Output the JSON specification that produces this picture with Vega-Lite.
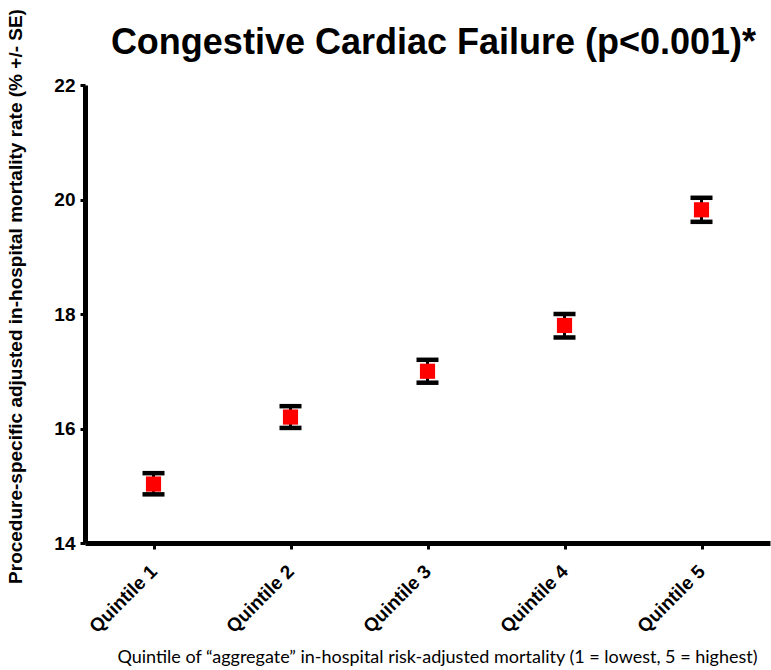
{
  "$schema": "https://vega.github.io/schema/vega-lite/v6.json",
  "width": 685,
  "height": 458,
  "autosize": "none",
  "padding": {"left": 85, "top": 85, "right": 1, "bottom": 127},
  "background": "white",
  "config": {"view": {"stroke": null}},
  "title": {
    "text": "Congestive Cardiac Failure (p<0.001)*",
    "font": "Liberation Sans",
    "fontSize": 36,
    "fontWeight": "bold",
    "color": "black",
    "anchor": "middle",
    "dx": 6,
    "dy": 53,
    "offset": 0
  },
  "data": {
    "values": [
      {"quintile": "Quintile 1", "rate": 15.03, "lo": 14.85, "hi": 15.22},
      {"quintile": "Quintile 2", "rate": 16.2, "lo": 16.01, "hi": 16.39},
      {"quintile": "Quintile 3", "rate": 17.0, "lo": 16.8, "hi": 17.2},
      {"quintile": "Quintile 4", "rate": 17.8, "lo": 17.59, "hi": 18.0},
      {"quintile": "Quintile 5", "rate": 19.82, "lo": 19.61, "hi": 20.03}
    ]
  },
  "encoding": {
    "x": {
      "field": "quintile",
      "type": "nominal",
      "scale": {"type": "point", "padding": 0.5},
      "axis": {
        "title": "Quintile of “aggregate” in-hospital risk-adjusted mortality (1 = lowest, 5 = highest)",
        "titleFont": "Lato",
        "titleFontSize": 18,
        "titleFontWeight": "normal",
        "titleColor": "black",
        "titleX": 352,
        "titleY": 114,
        "titleBaseline": "middle",
        "labelAngle": -45,
        "labelAlign": "right",
        "labelBaseline": "middle",
        "labelFont": "Liberation Sans",
        "labelFontSize": 19,
        "labelFontWeight": "bold",
        "labelColor": "black",
        "labelPadding": 19,
        "domainColor": "black",
        "domainWidth": 5,
        "tickColor": "black",
        "tickWidth": 3,
        "tickSize": 6,
        "grid": false
      }
    }
  },
  "layer": [
    {
      "mark": {"type": "rule", "color": "black", "strokeWidth": 3},
      "encoding": {
        "y": {"field": "lo", "type": "quantitative"},
        "y2": {"field": "hi"}
      }
    },
    {
      "mark": {"type": "tick", "color": "black", "opacity": 1, "orient": "horizontal", "size": 22, "thickness": 4.5},
      "encoding": {"y": {"field": "lo", "type": "quantitative"}}
    },
    {
      "mark": {"type": "tick", "color": "black", "opacity": 1, "orient": "horizontal", "size": 22, "thickness": 4.5},
      "encoding": {"y": {"field": "hi", "type": "quantitative"}}
    },
    {
      "mark": {"type": "point", "shape": "square", "filled": true, "color": "#ff0000", "opacity": 1, "size": 230},
      "encoding": {
        "y": {
          "field": "rate",
          "type": "quantitative",
          "scale": {"domain": [14, 22], "nice": false, "zero": false},
          "axis": {
            "title": "Procedure-specific adjusted in-hospital mortality rate (% +/- SE)",
            "titleFont": "Liberation Sans",
            "titleFontSize": 19,
            "titleFontWeight": "bold",
            "titleColor": "black",
            "titleAngle": -90,
            "titleX": -70,
            "titleY": 211,
            "titleAlign": "center",
            "titleBaseline": "middle",
            "values": [14, 16, 18, 20, 22],
            "format": "d",
            "labelFont": "Liberation Sans",
            "labelFontSize": 19,
            "labelFontWeight": "bold",
            "labelColor": "black",
            "labelPadding": 5,
            "domainColor": "black",
            "domainWidth": 5,
            "tickColor": "black",
            "tickWidth": 3,
            "tickSize": 5,
            "grid": false
          }
        }
      }
    }
  ]
}
